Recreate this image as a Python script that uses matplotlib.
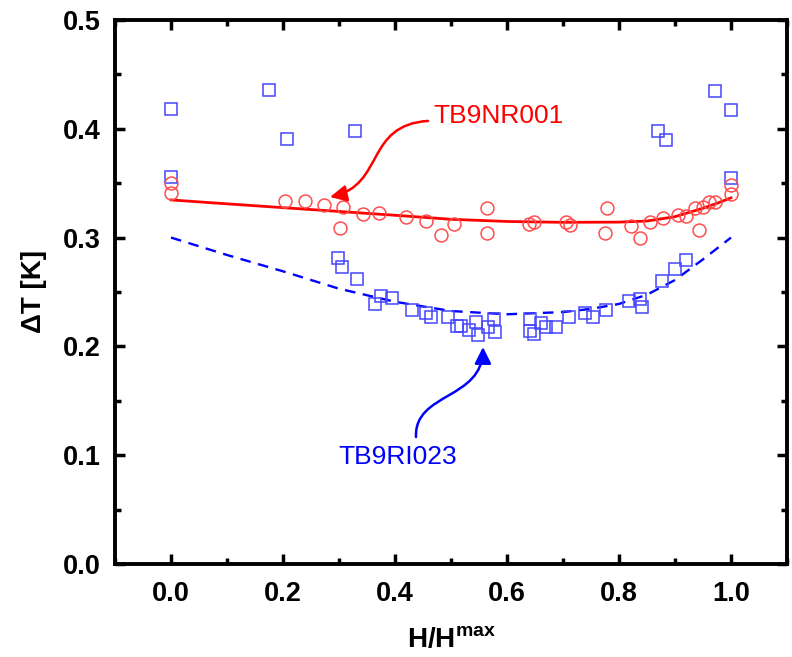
import matplotlib
matplotlib.use("Agg")
import matplotlib.pyplot as plt
from matplotlib.path import Path
from matplotlib.patches import FancyArrowPatch
from matplotlib.ticker import MultipleLocator

plt.rcParams['font.family'] = ['Liberation Sans', 'DejaVu Sans']
plt.rcParams['mathtext.fontset'] = 'custom'
plt.rcParams['mathtext.rm'] = 'Liberation Sans'
plt.rcParams['mathtext.bf'] = 'Liberation Sans:bold'

# ---- data ----
# TB9RI023 (blue squares)
ri_x = [0.0, 0.175, 0.207, 0.329, 0.0,
        0.972, 1.0, 0.870, 0.884, 1.0,
        0.299, 0.305, 0.332, 0.365, 0.375, 0.394, 0.430, 0.455, 0.465, 0.494,
        0.511, 0.518, 0.533, 0.544, 0.549, 0.566, 0.576, 0.578,
        0.641, 0.641, 0.648, 0.660, 0.670, 0.688, 0.711, 0.740, 0.753, 0.776,
        0.818, 0.837, 0.841, 0.877, 0.900, 0.920]
ri_y = [0.418, 0.436, 0.391, 0.398, 0.356,
        0.435, 0.417, 0.3975, 0.3895, 0.355,
        0.281, 0.273, 0.262, 0.239, 0.246, 0.2445, 0.2335, 0.231, 0.227, 0.2267,
        0.219, 0.219, 0.2153, 0.222, 0.2107, 0.2175, 0.225, 0.2135,
        0.225, 0.2144, 0.211, 0.2212, 0.218, 0.218, 0.2267, 0.2304, 0.227, 0.2335,
        0.242, 0.2432, 0.2364, 0.260, 0.271, 0.279]

# TB9NR001 (red circles)
nr_x = [0.0, 0.0, 0.203, 0.240, 0.274, 0.307, 0.301, 0.343, 0.372, 0.420,
        0.456, 0.483, 0.505, 0.564, 0.565, 0.639, 0.648, 0.705, 0.713, 0.779,
        0.775, 0.822, 0.837, 0.855, 0.879, 0.906, 0.920, 0.942, 0.936, 0.950,
        0.960, 0.971, 1.0, 1.0]
nr_y = [0.350, 0.341, 0.334, 0.334, 0.3297, 0.328, 0.309, 0.3217, 0.3223, 0.319,
        0.3155, 0.302, 0.3125, 0.3275, 0.3046, 0.3123, 0.3139, 0.3139, 0.312, 0.3275,
        0.3046, 0.311, 0.300, 0.3139, 0.3176, 0.3207, 0.320, 0.3067, 0.327, 0.3284,
        0.333, 0.3325, 0.340, 0.3486]

# fitted curves
nr_fit_x = [0, 0.1, 0.2, 0.3, 0.4, 0.5, 0.6, 0.7, 0.8, 0.85, 0.9, 0.95, 0.975, 1.0]
nr_fit_y = [0.3346, 0.3310, 0.3275, 0.3240, 0.3205, 0.3168, 0.3148, 0.3140,
            0.3142, 0.3152, 0.3192, 0.3270, 0.3315, 0.3365]
ri_fit_x = [0, 0.1, 0.2, 0.3, 0.4, 0.5, 0.6, 0.7, 0.75, 0.8, 0.85, 0.9, 0.95, 1.0]
ri_fit_y = [0.300, 0.284, 0.269, 0.253, 0.241, 0.2325, 0.2295, 0.2315, 0.2345,
            0.239, 0.2475, 0.2610, 0.2800, 0.300]

xticks = [0.0, 0.2, 0.4, 0.6, 0.8, 1.0]
yticks = [0.0, 0.1, 0.2, 0.3, 0.4, 0.5]

# ---- figure ----
fig = plt.figure(figsize=(7.92, 6.57), dpi=100)
ax = fig.add_axes([0.1452, 0.1416, 0.8485, 0.828])

blue_m = (0.27, 0.27, 1.0)
red_m = (1.0, 0.30, 0.30)

ax.plot(ri_fit_x, ri_fit_y, color='#0000ff', lw=1.7, dashes=(4.5, 3.2), zorder=2)
ax.plot(nr_fit_x, nr_fit_y, color='#ff0000', lw=2.0, zorder=2)
ax.plot(ri_x, ri_y, ls='none', marker='s', markersize=8.3, markerfacecolor='none',
        markeredgecolor=blue_m, markeredgewidth=1.1, zorder=3)
ax.plot(nr_x, nr_y, ls='none', marker='o', markersize=9.3, markerfacecolor='none',
        markeredgecolor=red_m, markeredgewidth=1.1, zorder=3)

ax.set_xlim(-0.1, 1.1)
ax.set_ylim(0.0, 0.5)
ax.set_xticks(xticks)
ax.set_yticks(yticks)
ax.set_xticklabels([f'{v:.1f}' for v in xticks])
ax.set_yticklabels([f'{v:.1f}' for v in yticks])
ax.xaxis.set_minor_locator(MultipleLocator(0.1))
ax.yaxis.set_minor_locator(MultipleLocator(0.05))
ax.tick_params(which='both', direction='in', top=True, right=True, width=2.5)
ax.tick_params(which='major', length=7, labelsize=19.5)
ax.tick_params(axis='x', which='major', pad=12)
ax.tick_params(axis='y', which='major', pad=10)
ax.tick_params(which='minor', length=4)
for lab in ax.get_xticklabels() + ax.get_yticklabels():
    lab.set_fontweight('bold')
for s in ax.spines.values():
    s.set_linewidth(2.8)

ax.set_xlabel(r'H/H$^{\mathbf{max}}$', fontsize=20, fontweight='bold', labelpad=15)
ax.set_ylabel('ΔT [K]', fontsize=20, fontweight='bold', labelpad=12)

# annotations
ax.text(0.468, 0.412, 'TB9NR001', color='#ff0000', fontsize=19,
        ha='left', va='center')
ax.text(0.298, 0.0986, 'TB9RI023', color='#0000ff', fontsize=19,
        ha='left', va='center')

red_path = Path([(0.459, 0.4072), (0.346, 0.4035), (0.382, 0.3483), (0.284, 0.3373)],
                [Path.MOVETO, Path.CURVE4, Path.CURVE4, Path.CURVE4])
ax.add_patch(FancyArrowPatch(path=red_path, arrowstyle='-|>,head_length=0.5,head_width=0.25',
                             mutation_scale=20, color='#ff0000', lw=1.8,
                             transform=ax.transData, zorder=4))
blue_path = Path([(0.4375, 0.1167), (0.434, 0.158), (0.557, 0.1507), (0.557, 0.1994)],
                 [Path.MOVETO, Path.CURVE4, Path.CURVE4, Path.CURVE4])
ax.add_patch(FancyArrowPatch(path=blue_path, arrowstyle='-|>,head_length=0.5,head_width=0.25',
                             mutation_scale=20, color='#0000ff', lw=1.8,
                             transform=ax.transData, zorder=4))

fig.savefig('out.png', dpi=100)
